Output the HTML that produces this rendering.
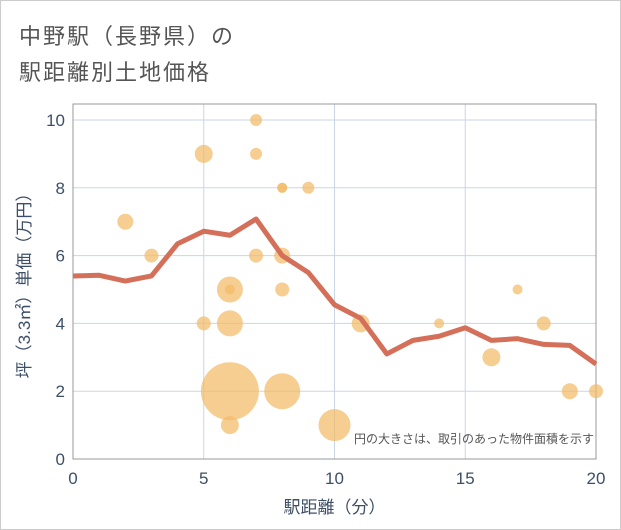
<!DOCTYPE html>
<html><head><meta charset="utf-8">
<style>
body{margin:0;background:#fff;font-family:"Liberation Sans","Noto Sans CJK JP",sans-serif;}
#wrap{position:relative;width:619px;height:528px;border:1px solid #ccc;background:#fff;overflow:hidden}
.title{position:absolute;left:18px;font-size:22px;color:#555;letter-spacing:2px}
</style></head><body>
<div id="wrap">
<div class="title" style="top:18px">中野駅（長野県）の</div>
<div class="title" style="top:54px">駅距離別土地価格</div>
<svg id="chart" width="621" height="530" style="position:absolute;left:-1px;top:-1px"></svg>
</div>
<script>
const xTicks=[0,5,10,15,20];
const yTicks=[0,2,4,6,8,10];
const lineX=[0,1,2,3,4,5,6,7,8,9,10,11,12,13,14,15,16,17,18,19,20];
const lineY=[5.4,5.42,5.25,5.4,6.35,6.72,6.6,7.08,6.0,5.5,4.55,4.15,3.1,3.5,3.62,3.87,3.5,3.55,3.38,3.35,2.8];
const bubX=[2,3,5,5,6,6,6,6,7,7,7,8,8,8,8,8,9,10,11,14,16,17,18,19,20,6];
const bubY=[7,6,9,4,5,4,2,1,10,9,6,8,8,6,5,2,8,1,4,4,3,5,4,2,2,5];
const bubR=[8,7,9,7,13,13,29,9,6,6,7,5,5,8,7,18,6,16,9,5,9,5,7,8,7,5];
const NS="http://www.w3.org/2000/svg";
const svg=document.getElementById('chart');
const L=73,R=596,T=104,B=459;
const sx=v=>L+(v-0)/20*(R-L);
const sy=v=>459-v/10*(459-120);
function mk(t,a){const e=document.createElementNS(NS,t);for(const k in a)e.setAttribute(k,a[k]);svg.appendChild(e);return e;}
xTicks.forEach(v=>{const g=mk('line',{x1:sx(v),x2:sx(v),y1:T,y2:B,stroke:'#c8d6e8','stroke-width':1});


const t=mk('text',{x:sx(v),y:B+25,'text-anchor':'middle','font-size':17,fill:'#3d4f66'});t.textContent=v;

});
yTicks.forEach(v=>{const g=mk('line',{x1:L,x2:R,y1:sy(v),y2:sy(v),stroke:'#c8d6e8','stroke-width':1});


const t=mk('text',{x:L-8,y:sy(v)+6,'text-anchor':'end','font-size':17,fill:'#3d4f66'});t.textContent=v;

});
const fr=mk('rect',{x:L,y:T,width:R-L,height:B-T,fill:'none',stroke:'#999','stroke-width':1});


bubX.forEach((x,i)=>{const c=mk('circle',{cx:sx(x),cy:sy(bubY[i]),r:bubR[i],fill:'#f2bb66','fill-opacity':0.72});

});
const pl=mk('polyline',{points:lineX.map((x,i)=>sx(x)+','+sy(lineY[i])).join(' '),fill:'none',stroke:'#d4705a','stroke-width':5,'stroke-linejoin':'round'});


const note=mk('text',{x:594,y:443,'text-anchor':'end','font-size':12,fill:'#555'});note.textContent='円の大きさは、取引のあった物件面積を示す';


const xt=mk('text',{x:(L+R)/2,y:513,'text-anchor':'middle','font-size':17,fill:'#3d4f66'});xt.textContent='駅距離（分）';


const yt=mk('text',{x:0,y:0,'text-anchor':'middle','font-size':17,fill:'#3d4f66',transform:'translate(30,'+((T+B)/2)+') rotate(-90)'});yt.textContent='坪（3.3㎡）単価（万円）';


</script>
</body></html>
